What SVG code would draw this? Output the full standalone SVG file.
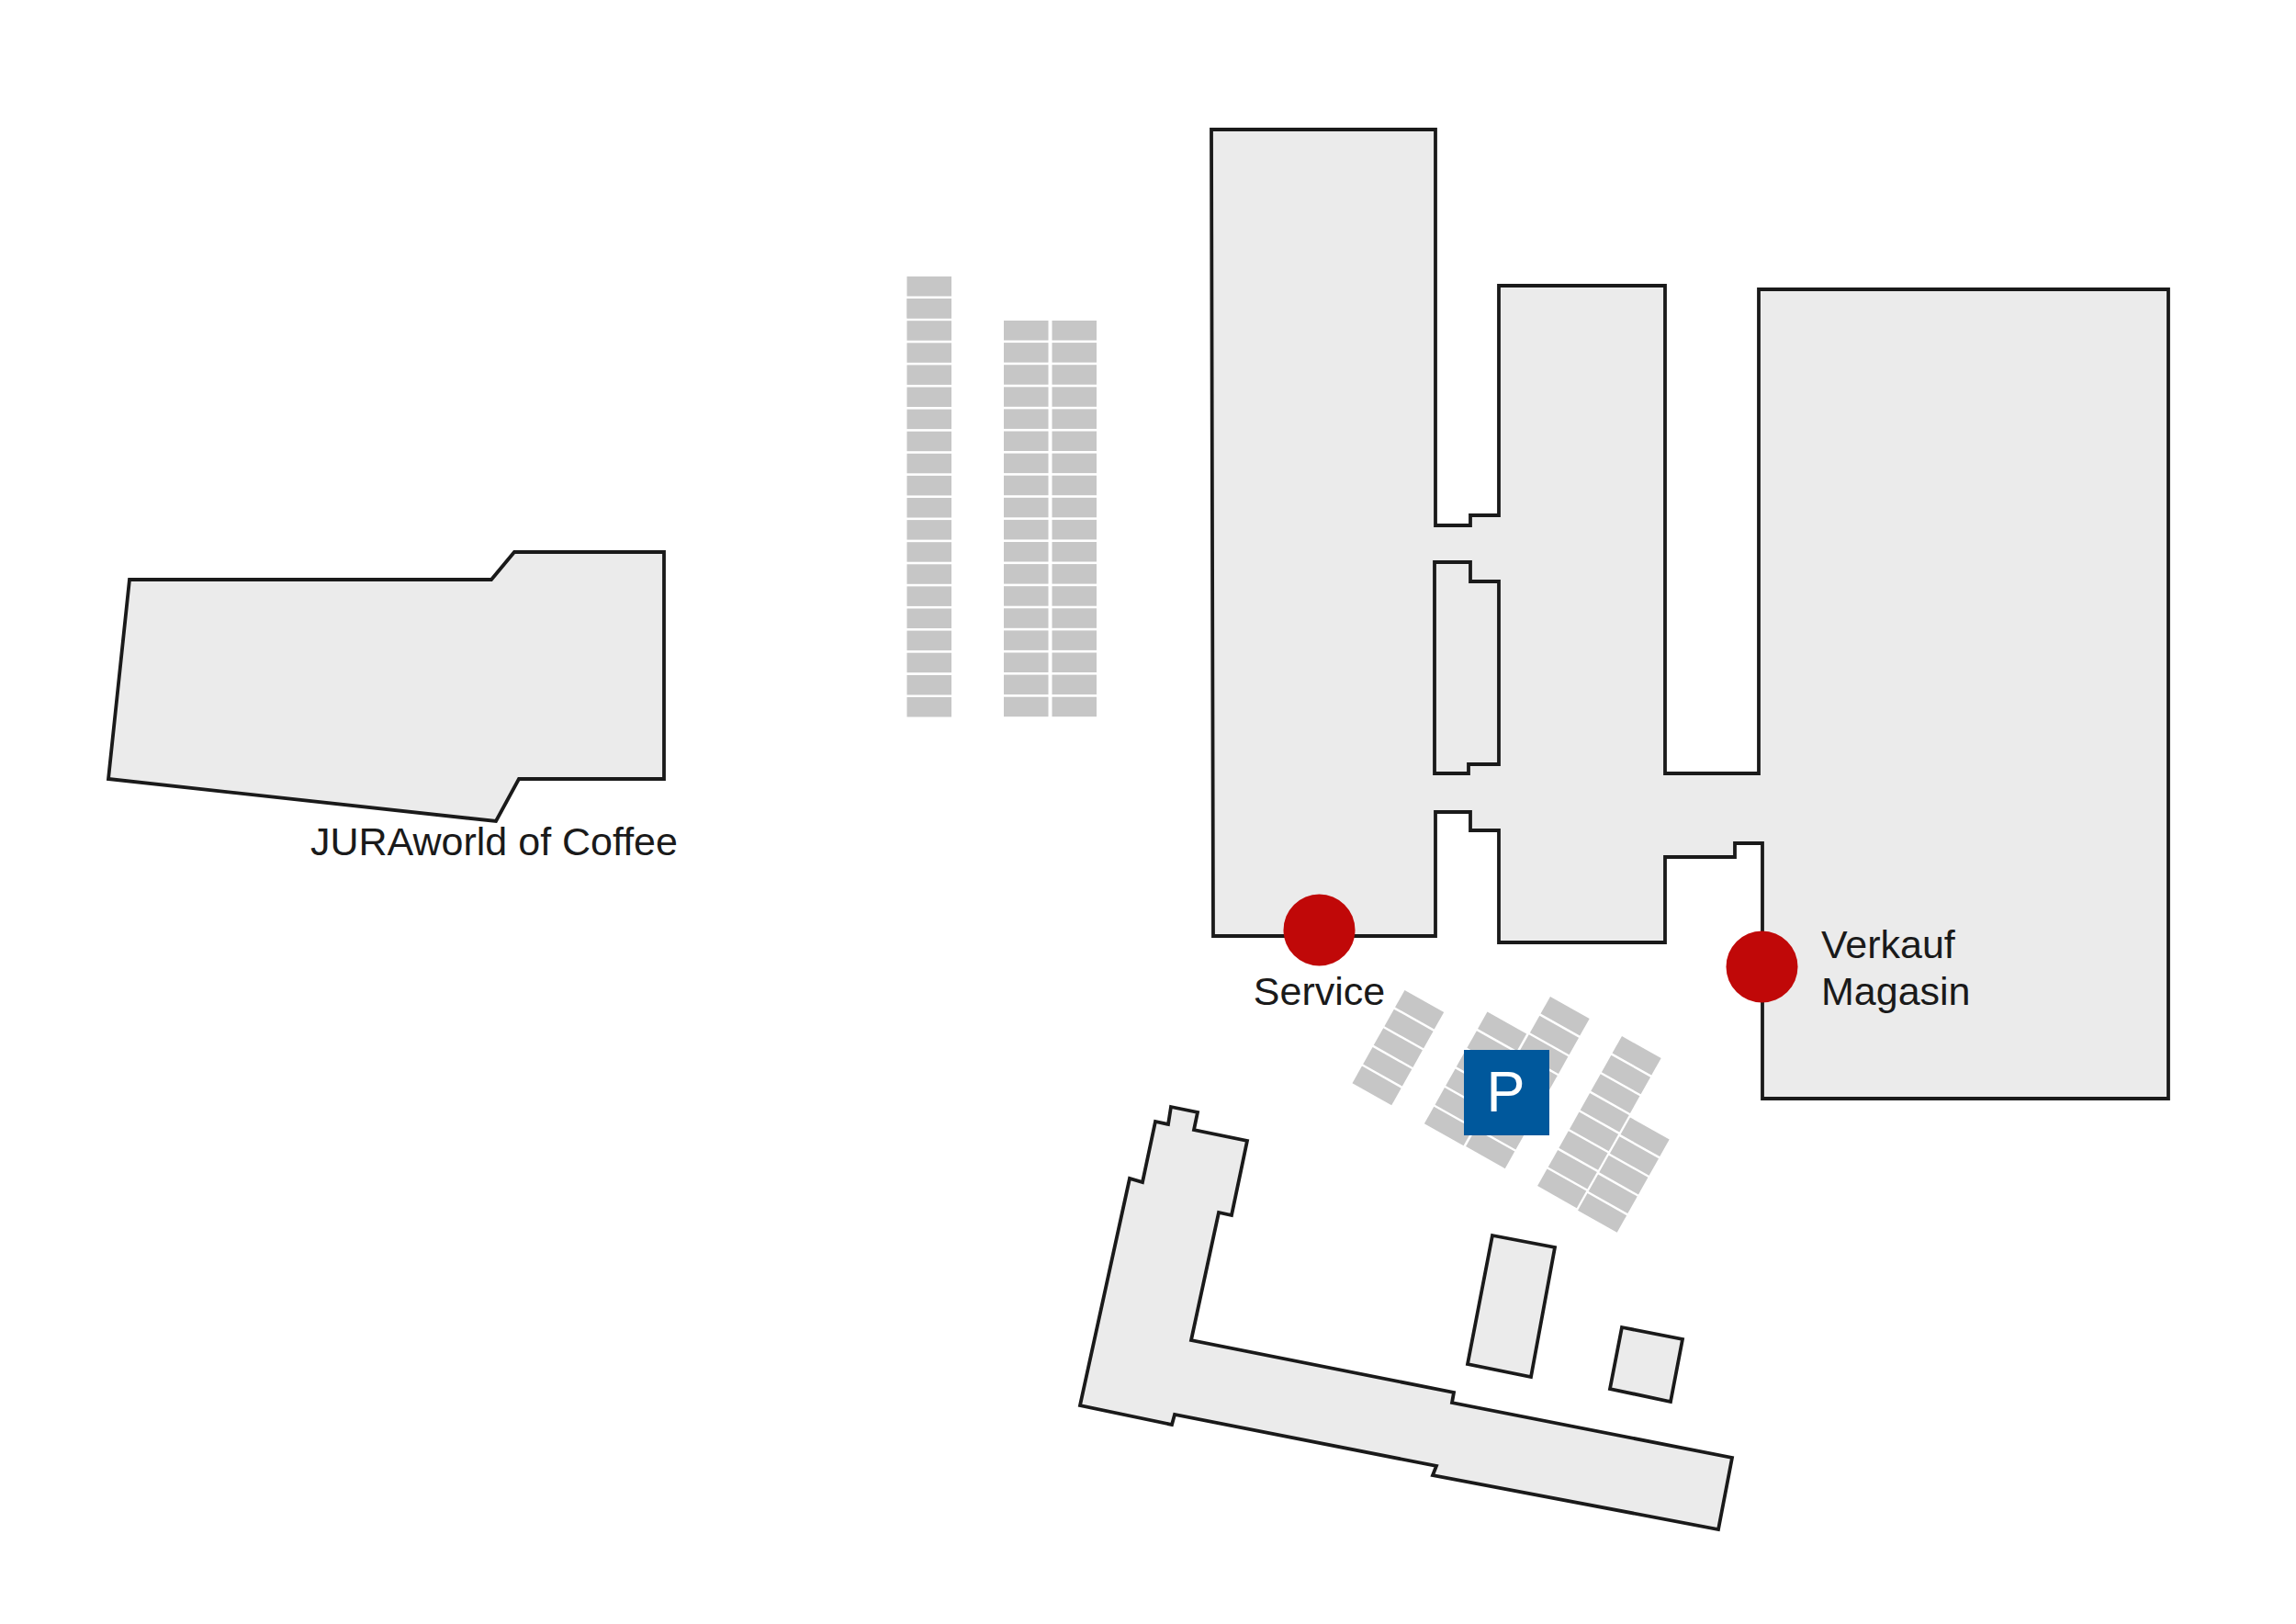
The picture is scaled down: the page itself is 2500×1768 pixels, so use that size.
<svg xmlns="http://www.w3.org/2000/svg" width="2500" height="1768" viewBox="0 0 2500 1768">
<defs>
<style>
.b{fill:#ebebeb;stroke:#1a1a1a;stroke-width:3.8;stroke-linejoin:miter}
.s{fill:#c6c6c6}
.d{fill:#c00808}
text{font-family:"Liberation Sans",Arial,sans-serif;font-size:43px;fill:#1a1a1a}
</style>
<rect id="v" class="s" width="48.5" height="21.5"/>
<rect id="a" class="s" width="49" height="21.3"/>
<g id="a5"><use href="#a"/><use href="#a" y="23.7"/><use href="#a" y="47.4"/><use href="#a" y="71.1"/><use href="#a" y="94.8"/></g>
<g id="v6"><use href="#v"/><use href="#v" y="24.1"/><use href="#v" y="48.2"/><use href="#v" y="72.3"/><use href="#v" y="96.4"/><use href="#v" y="120.5"/></g>
<g id="v18"><use href="#v6"/><use href="#v6" y="144.6"/><use href="#v6" y="289.2"/></g>
</defs>
<rect width="2500" height="1768" fill="#fff"/>
<g id="jura-world">
<polygon class="b" points="141,631 535,631 560,601 723,601 723,848 565,848 540,894 118,848"/>
<text x="338" y="931">JURAworld of Coffee</text>
</g>
<g id="parking-long">
<use href="#v18" x="987.5" y="301"/><use href="#v" x="987.5" y="735"/><use href="#v" x="987.5" y="759"/>
<use href="#v" x="987.5" y="325"/>
<use href="#v18" x="1093" y="349"/>
<use href="#v18" x="1145.5" y="349"/>
</g>
<g id="main-building">
<polygon class="b" points="1319,141 1563,141 1563,572 1601,572 1601,561 1632,561 1632,311 1813,311 1813,842 1915,842 1915,315 2361,315 2361,1196 1919,1196 1919,918 1889,918 1889,933 1813,933 1813,1026 1632,1026 1632,904 1601,904 1601,884 1563,884 1563,1019 1321,1019"/>
<polygon class="b" points="1562,612 1601,612 1601,633 1632,633 1632,832 1599,832 1599,842 1562,842"/>
</g>
<g id="parking-angled">
<g transform="translate(1529.5,1078) rotate(29.4)"><use href="#a5"/></g>
<g transform="translate(1619.5,1101.5) rotate(29.4)"><use href="#a5"/><use href="#a" y="118.5"/></g>
<g transform="translate(1688,1085) rotate(29.4)"><use href="#a5"/><use href="#a" y="118.5"/><use href="#a" y="142.2"/><use href="#a" y="165.9"/></g>
<g transform="translate(1766,1128) rotate(29.4)"><use href="#a5"/><use href="#a" y="118.5"/><use href="#a" y="142.2"/><use href="#a" y="165.9"/></g>
<g transform="translate(1775,1216.5) rotate(29.4)"><use href="#a5"/></g>
</g>
<g id="parking-sign">
<rect x="1594" y="1143" width="93" height="93" fill="#00589c"/>
<text x="1639.5" y="1210" text-anchor="middle" style="font-size:63px;fill:#fff">P</text>
</g>
<g id="lower-building">
<polygon class="b" points="1275,1205 1304,1211 1300,1230 1358,1242 1341,1323 1327,1320 1297,1459 1583,1516 1581,1527 1886,1587 1871,1665 1560,1606 1564,1596 1279,1540 1276,1551 1176,1530 1230,1283 1244,1287 1258,1221 1272,1224"/>
</g>
<g id="small-building-1"><polygon class="b" points="1625,1345 1693,1358 1667,1499 1598,1485"/></g>
<g id="small-building-2"><polygon class="b" points="1766,1445 1832,1458 1819,1526 1753,1512"/></g>
<g id="service">
<circle class="d" cx="1436.5" cy="1012.5" r="39"/>
<text x="1436.5" y="1093.5" text-anchor="middle">Service</text>
</g>
<g id="verkauf">
<circle class="d" cx="1918.5" cy="1052.5" r="39"/>
<text x="1983" y="1043">Verkauf</text>
<text x="1983" y="1094">Magasin</text>
</g>
</svg>
